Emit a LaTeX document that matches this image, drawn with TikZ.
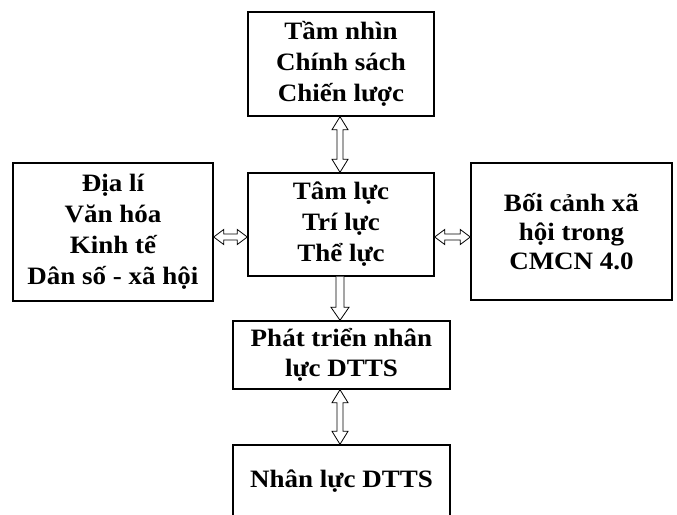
\documentclass[tikz,border=0pt]{standalone}
\usepackage{fontspec}
\setmainfont{Liberation Serif}[FakeStretch=1.08]
\usetikzlibrary{calc}
\tikzset{
  box/.style={draw=black, line width=1.4pt, inner sep=0pt, align=center,
    font=\bfseries\fontsize{25}{31}\selectfont},
  vdbl/.style={draw=black, line width=0.8pt, fill=white, to path={
    let \p1=(\tikztostart), \p2=(\tikztotarget) in
    (\x1,\y1) -- (\x1-8pt,\y1-13pt) -- (\x1-3pt,\y1-13pt) -- (\x1-3pt,\y2+13pt)
    -- (\x1-8pt,\y2+13pt) -- (\x1,\y2) -- (\x1+8pt,\y2+13pt) -- (\x1+3pt,\y2+13pt)
    -- (\x1+3pt,\y1-13pt) -- (\x1+8pt,\y1-13pt) -- cycle}},
  hdbl/.style={draw=black, line width=0.8pt, fill=white, to path={
    let \p1=(\tikztostart), \p2=(\tikztotarget) in
    (\x1,\y1) -- (\x1+10pt,\y1+7.5pt) -- (\x1+10pt,\y1+3pt) -- (\x2-10pt,\y1+3pt)
    -- (\x2-10pt,\y1+7.5pt) -- (\x2,\y1) -- (\x2-10pt,\y1-7.5pt) -- (\x2-10pt,\y1-3pt)
    -- (\x1+10pt,\y1-3pt) -- (\x1+10pt,\y1-7.5pt) -- cycle}},
  vsgl/.style={draw=black, line width=0.8pt, fill=white, to path={
    let \p1=(\tikztostart), \p2=(\tikztotarget) in
    (\x1-4pt,\y1) -- (\x1-4pt,\y2+13pt) -- (\x1-9pt,\y2+13pt) -- (\x1,\y2)
    -- (\x1+9pt,\y2+13pt) -- (\x1+4pt,\y2+13pt) -- (\x1+4pt,\y1)}}
}
\begin{document}
\begin{tikzpicture}[x=1pt,y=1pt]
\useasboundingbox (0,0) rectangle (677,514);
\clip (0,0) rectangle (677,514);
\node[box, minimum width=186pt, minimum height=104pt] (top) at (341,450) {Tầm nhìn\\Chính sách\\Chiến lược};
\node[box, minimum width=186pt, minimum height=103pt] (ctr) at (341,289.5) {Tâm lực\\Trí lực\\Thể lực};
\node[box, minimum width=200pt, minimum height=138pt] (lft) at (113,282) {Địa lí\\Văn hóa\\Kinh tế\\Dân số - xã hội};
\node[box, minimum width=201pt, minimum height=137pt, font=\bfseries\fontsize{25}{29}\selectfont] (rgt) at (571.5,282.5) {Bối cảnh xã\\hội trong\\CMCN 4.0};
\node[box, minimum width=217pt, minimum height=68pt, font=\bfseries\fontsize{25}{30}\selectfont] (dev) at (341.5,159) {Phát triển nhân\\lực DTTS};
\node[box, minimum width=217pt, minimum height=72pt] (hr) at (341.5,33) {Nhân lực DTTS};
\coordinate (ax) at (340,0);
\coordinate (ay) at (0,277);
\path (top.south -| ax) edge[vdbl] (ctr.north -| ax);
\path (ctr.south -| ax) edge[vsgl] (dev.north -| ax);
\path (dev.south -| ax) edge[vdbl] (hr.north -| ax);
\path (lft.east |- ay) edge[hdbl] (ctr.west |- ay);
\path (ctr.east |- ay) edge[hdbl] (rgt.west |- ay);
\end{tikzpicture}
\end{document}
